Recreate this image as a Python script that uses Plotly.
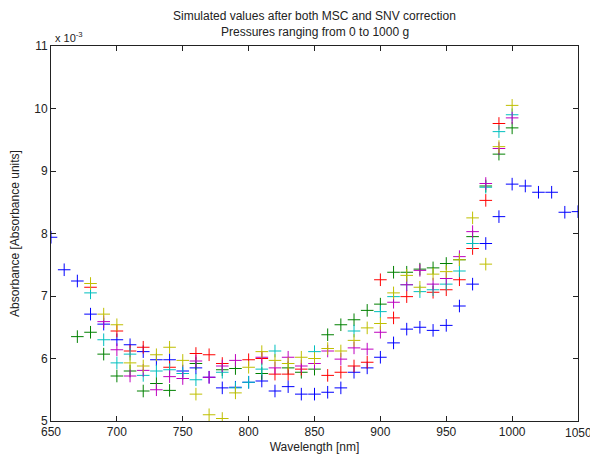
import plotly.graph_objects as go

# Wavelength grid [nm]
wavelengths = list(range(650, 1051, 10))

# Absorbance values in units of 1e-3 (None = not visible)
blue = [7.94, 7.42, 7.24, 6.71, 6.55, 6.30, 6.22, 6.11, 5.98, 5.98,
        5.80, 5.85, 5.70, 5.53, 5.54, 5.62, 5.64, 5.48, 5.55, 5.43,
        5.43, 5.46, 5.53, 5.78, 5.85, 6.02, 6.25, 6.47, 6.50, 6.45,
        6.53, 6.84, 7.19, 7.84, 8.27, 8.79, 8.76, 8.66, 8.66, 8.34, 8.35]

green = [None, None, 6.35, 6.42, 6.07, 5.72, 5.80, 5.48, 5.60, 5.49,
         None, 5.92, None, 5.82, 5.84, None, 5.76, None, 5.85, 5.78,
         5.83, 6.38, 6.54, 6.62, 6.77, 6.87, 7.38, 7.38, 7.43, 7.45,
         7.52, 7.58, 7.95, 8.76, 9.27, 9.69, None, None, None, None, None]

red = [None, None, None, 7.14, None, 6.44, 6.12, 6.18, None, 5.86,
       None, 6.08, 6.06, 5.92, None, 5.98, 6.00, 5.75, 5.75, 5.83,
       None, 5.73, 5.78, 5.88, 5.94, 7.26, 6.65, 6.99, None, 7.06,
       7.10, 7.26, 7.76, 8.53, 9.76, None, None, None, None, None, None]

cyan = [None, None, None, 7.05, 6.30, 5.93, 6.07, 5.73, 5.80, 5.82,
        5.76, 5.66, None, 5.78, 5.53, 5.62, 5.83, 6.12, None, None,
        6.11, None, None, 6.44, None, 6.75, 6.99, 7.18, 7.07, 7.10,
        7.19, 7.40, 7.84, 8.74, 9.63, 9.90, None, None, None, None, None]

magenta = [None, None, None, None, 6.59, 6.14, 5.72, 5.81, 5.50, 5.71,
           5.68, 5.96, 5.70, 5.88, 5.97, None, 6.02, 5.85, 6.02, 5.88,
           5.92, 6.12, 5.99, 6.17, 6.15, 6.42, 6.90, 7.18, 7.41, 7.19,
           7.28, 7.63, 8.03, 8.80, 9.36, 9.85, None, None, None, None, None]

yellow = [None, None, None, 7.20, 6.71, 6.54, 5.93, 5.88, 6.06, 6.18,
          5.97, 5.43, 5.10, 5.04, 5.45, 5.86, 6.11, 5.97, 5.92, 6.02,
          6.00, 6.16, 6.12, 6.29, 6.49, 6.56, 7.05, 7.33, 7.14, 7.35,
          7.39, 7.58, 8.25, 7.51, 9.39, 10.05, None, None, None, None, None]

series = [
    ("blue", blue, "#0000FF"),
    ("green", green, "#008000"),
    ("red", red, "#FF0000"),
    ("cyan", cyan, "#00BFBF"),
    ("magenta", magenta, "#BF00BF"),
    ("yellow", yellow, "#BFBF00"),
]

x_ticks = [650, 700, 750, 800, 850, 900, 950, 1000, 1050]
y_ticks = [5, 6, 7, 8, 9, 10, 11]
title_lines = ["Simulated values after both MSC and SNV correction",
               "Pressures ranging from 0 to 1000 g"]

fig = go.Figure()
for name, vals, col in series:
    fig.add_trace(go.Scatter(
        x=wavelengths, y=vals, mode="markers", name=name,
        marker=dict(symbol="cross-thin", size=9,
                    line=dict(width=1, color=col), color=col),
        showlegend=False, cliponaxis=True))

font = "Liberation Sans, Arial, sans-serif"
txt = "#222222"
axis_common = dict(showline=True, linecolor=txt, linewidth=1,
                   mirror="ticks", ticks="inside", ticklen=5,
                   tickcolor=txt, showgrid=False, zeroline=False,
                   tickfont=dict(family=font, size=12, color=txt))

annotations = [
    dict(text=title_lines[0], xref="paper", yref="paper", x=0.5, y=1,
         xanchor="center", yanchor="middle", yshift=30, showarrow=False,
         font=dict(family=font, size=12, color=txt)),
    dict(text=title_lines[1], xref="paper", yref="paper", x=0.5, y=1,
         xanchor="center", yanchor="middle", yshift=14, showarrow=False,
         font=dict(family=font, size=12, color=txt)),
    dict(text="x 10<sup>-3</sup>", xref="paper", yref="paper",
         x=0, y=1, xanchor="left", yanchor="bottom",
         xshift=2, yshift=0, showarrow=False,
         font=dict(family=font, size=11, color=txt)),
    # last x tick label, partially cut by the window edge as in the original
    dict(text=str(x_ticks[-1]), xref="x", yref="paper", x=x_ticks[-1], y=0,
         xanchor="center", yanchor="top", yshift=-3, showarrow=False,
         font=dict(family=font, size=12, color=txt)),
]

fig.update_layout(
    width=590, height=463,
    margin=dict(l=51, r=11, t=46, b=39),
    paper_bgcolor="white", plot_bgcolor="white",
    font=dict(family=font, size=12, color=txt),
    xaxis=dict(range=[650, 1050], tickvals=x_ticks,
               ticktext=[str(v) for v in x_ticks[:-1]] + [""],
               title=dict(text="Wavelength [nm]", standoff=4,
                          font=dict(family=font, size=12)),
               **axis_common),
    yaxis=dict(range=[5, 11], tickvals=y_ticks,
               title=dict(text="Absorbance [Absorbance units]", standoff=12,
                          font=dict(family=font, size=12)),
               **axis_common),
    annotations=annotations,
)

fig.write_html("out.html")
